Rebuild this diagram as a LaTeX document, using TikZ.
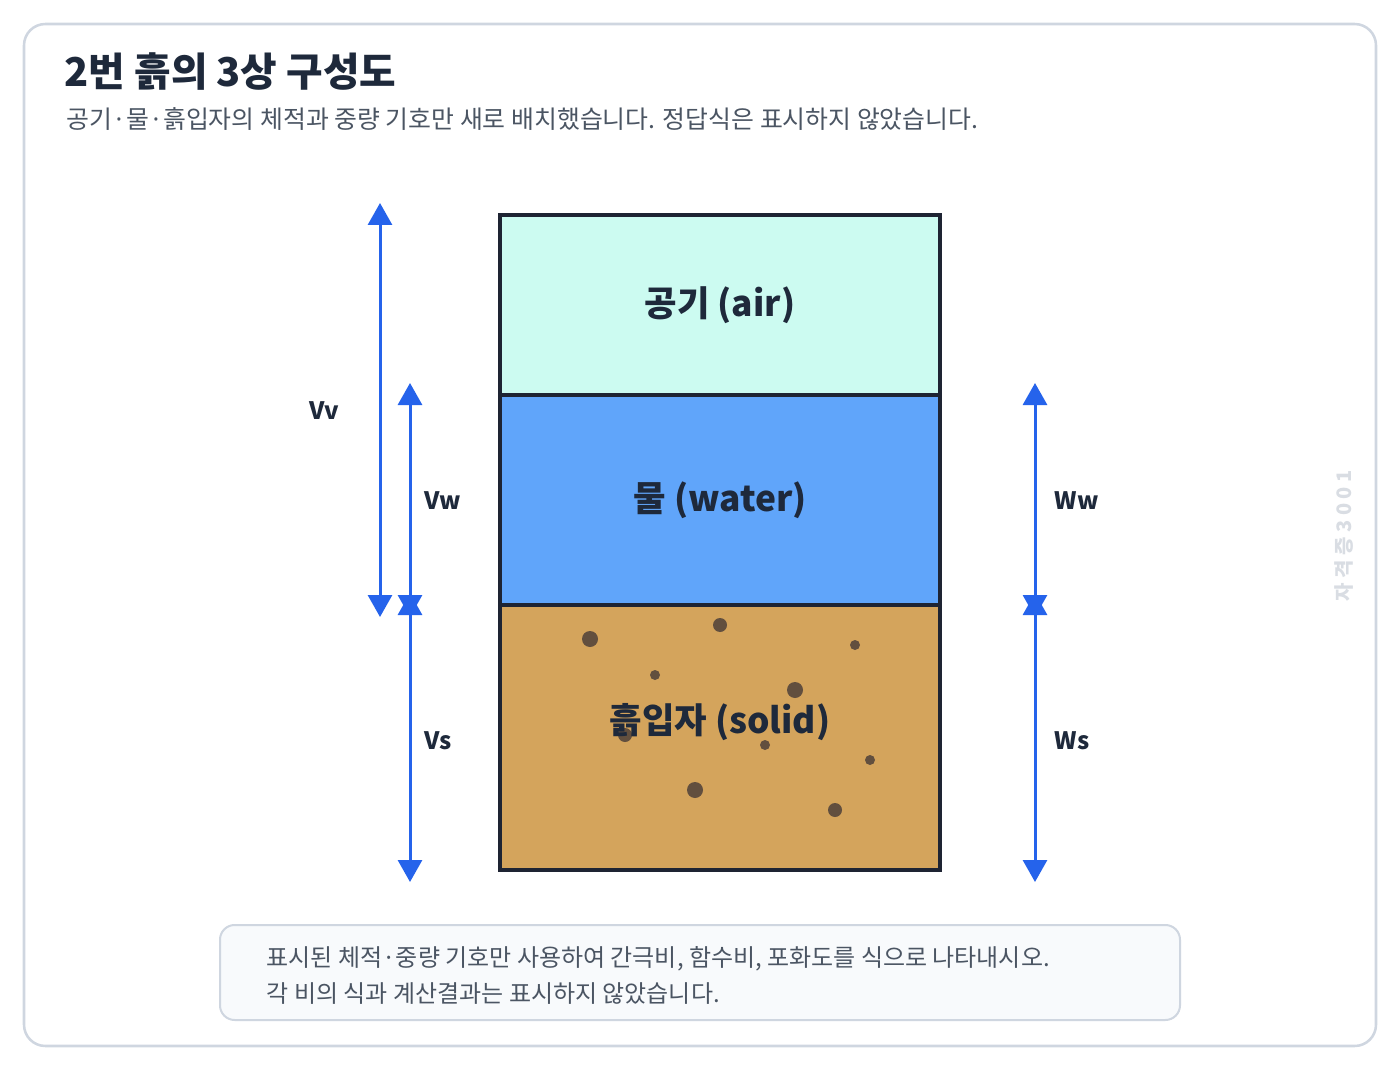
\documentclass[tikz,border=0pt]{standalone}
\usepackage{fontspec}
\setmainfont{Noto Sans CJK KR}
\usetikzlibrary{arrows.meta,calc}

\definecolor{inkC}{HTML}{1E293B}
\definecolor{greyC}{HTML}{4B5563}
\definecolor{frameC}{HTML}{CFD6E0}
\definecolor{edgeC}{HTML}{1E2433}
\definecolor{airC}{HTML}{CCFBF1}
\definecolor{waterC}{HTML}{60A5FA}
\definecolor{solidC}{HTML}{D4A45C}
\definecolor{grainC}{HTML}{5C4B3D}
\definecolor{arrowC}{HTML}{2563EB}
\definecolor{noteC}{HTML}{F8FAFC}
\definecolor{wmC}{HTML}{D9DDE3}

\begin{document}
\begin{tikzpicture}
  [x=0.75pt,y=-0.75pt,
   layerN/.style={draw=edgeC,line width=3pt,minimum width=440*0.75pt,inner sep=0,outer sep=0},
   labelN/.style={font=\fontsize{26.5}{30}\selectfont\bfseries,text=inkC},
   dimN/.style={font=\fontsize{18}{22}\selectfont\bfseries,text=inkC,anchor=west},
   dimA/.style={draw=arrowC,line width=2.25pt,
     {Triangle[width=18pt,length=16.5pt]}-{Triangle[width=18pt,length=16.5pt]},
     shorten <=-9pt,shorten >=-9pt},
   grain/.style={fill=grainC,fill opacity=0.95}]

  \useasboundingbox (0,0) rectangle (1400,1070);
  \draw [draw=frameC,line width=1.9pt,rounded corners=16pt,fill=white] (24,24) rectangle (1376,1046);

  \node[anchor=west,text=inkC,font=\fontsize{29.8}{34}\selectfont\bfseries] (title) at (60,72) {2번 흙의 3상 구성도};
  \node[anchor=west,text=greyC,font=\fontsize{18.65}{22}\selectfont] (sub) at (62,119)
    {공기·물·흙입자의 체적과 중량 기호만 새로 배치했습니다. 정답식은 표시하지 않았습니다.};

  % three phases
  \node[layerN,fill=airC,minimum height=180*0.75pt] (air) at (720,305) {};
  \node[layerN,fill=waterC,minimum height=210*0.75pt] (water) at (720,500) {};
  \node[layerN,fill=solidC,minimum height=265*0.75pt] (solid) at (720,737.5) {};

  \foreach \x/\y/\r in {590/639/8,720/625/7,855/645/5,655/675/5,795/690/8,
                        625/735/7,765/745/5,870/760/5,695/790/8,835/810/7}
    \fill[grain] (\x,\y) circle[radius=\r*0.75pt];

  \node[labelN] (airL) at (air.center) {공기 (air)};
  \node[labelN] (waterL) at (water.center) {물 (water)};
  \node[labelN] (solidL) at (720,722) {흙입자 (solid)};

  % volumes and weights
  \coordinate (vv) at (380,0);
  \coordinate (vw) at (410,0);
  \coordinate (ww) at (1035,0);

  \draw [dimA] (vv |- solid.north) -- (vv |- air.north);
  \draw [dimA] (vw |- solid.north) -- (vw |- water.north);
  \draw [dimA] (vw |- solid.north) -- (vw |- solid.south);
  \draw [dimA] (ww |- solid.north) -- (ww |- water.north);
  \draw [dimA] (ww |- solid.north) -- (ww |- solid.south);

  \node[dimN] (vvL) at (305,411) {Vv};
  \node[dimN] (vwL) at (420,501) {Vw};
  \node[dimN] (vsL) at (420,741) {Vs};
  \node[dimN] (wwL) at (1050,501) {Ww};
  \node[dimN] (wsL) at (1050,741) {Ws};

  \node[rotate=90,text=wmC,font=\fontsize{15}{17}\selectfont\bfseries] (mark) at (1344,536)
    {자\kern3.5pt 격\kern3.5pt 증\kern3.5pt 3\kern3.5pt 0\kern3.5pt 0\kern3.5pt 1};

  % note
  \node[draw=frameC,fill=noteC,line width=1.5pt,rounded corners=11pt,
        minimum width=960*0.75pt,minimum height=95*0.75pt,inner sep=0] (note) at (700,972.5) {};
  \node[anchor=west,align=left,text=greyC,font=\fontsize{18}{27}\selectfont] (noteT) at (262,975)
    {표시된 체적·중량 기호만 사용하여 간극비, 함수비, 포화도를 식으로 나타내시오.\\
     각 비의 식과 계산결과는 표시하지 않았습니다.};
\end{tikzpicture}
\end{document}
